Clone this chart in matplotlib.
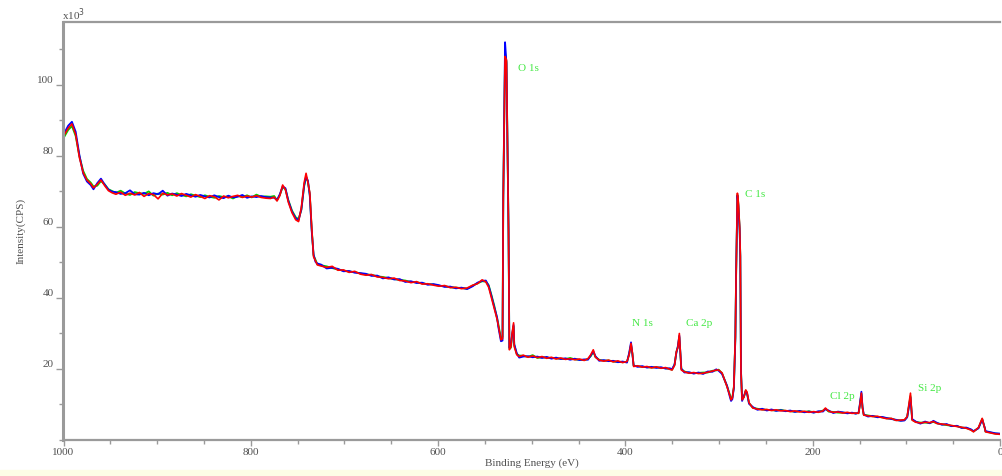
import numpy as np
import matplotlib.pyplot as plt
from matplotlib.ticker import MultipleLocator
from matplotlib.patches import Rectangle

# Binding energy (eV) and intensity (x10^3 CPS) for the three survey scans
energy = [
    1000, 995, 991, 987, 983, 979, 975, 971, 968, 964, 960, 956, 952, 948,
    944, 939, 934, 929, 924, 919, 914, 909, 904, 899, 894, 889, 884, 879, 874,
    869, 864, 859, 854, 849, 844, 839, 834, 829, 824, 819, 814, 809, 804, 799,
    794, 789, 784, 779,
    775, 772, 769, 766, 763, 760, 756, 752, 749, 746, 743, 741, 739, 737, 735,
    733, 731, 729,
    725, 719, 713, 707, 701, 695, 689, 683, 677, 671, 665, 659, 653, 647, 641,
    635, 629, 623, 617, 611, 605, 599, 593, 587, 581, 575, 569, 563,
    558, 553, 549, 546, 543, 540, 537, 535.8, 532.9, 531.2, 530.4, 528.5, 527.0,
    524.8, 523.9, 522.2, 521.2, 519.4, 518.7, 516.0, 513.4,
    509, 504, 499, 494, 489, 484, 479, 474, 469, 464, 459, 454, 449, 444, 440,
    437, 434.3, 432, 428, 423, 418, 413, 408, 403, 398.3, 396, 394, 392.5,
    391.2, 387, 382, 377, 372, 367, 362, 357, 352.5, 350.2, 347.5, 345.6, 344,
    342.4, 340.3, 337, 332, 327, 322, 317, 312, 307, 303, 300.4, 296.8, 291.5,
    288.5, 287.2, 285.8, 284.2, 282.6, 281.8, 280.4, 279.4, 278.0, 277.3, 276.6,
    275.4, 273.5, 271.5, 270.1, 268, 264, 259, 254, 249, 244, 239, 234, 229,
    224, 219, 214, 209, 204, 199, 194, 189, 186.4, 183, 178, 173, 168, 163, 158,
    154, 151, 149.8, 148, 146.8, 145.5, 141, 136, 131, 126, 121, 116, 111, 106,
    102, 99.1, 95.6, 93.8, 90, 85, 80, 75, 71.1, 67, 62, 57, 52, 46, 41, 36,
    31, 28.3, 23, 19, 16, 15.5, 10, 5, 0,
]

counts_red = [
    85.5, 87.8, 89.0, 86.0, 79.5, 75.3, 73.2, 72.2, 71.0, 72.0, 73.2, 71.6, 70.2, 69.6,
    69.2, 69.8, 68.9, 69.5, 69.0, 69.7, 68.6, 69.4, 69.1, 67.9, 69.5, 69.0, 69.3, 68.7, 69.4,
    68.9, 68.4, 69.1, 68.6, 68.0, 68.8, 68.5, 67.6, 68.7, 68.2, 68.6, 68.9, 68.3, 68.7, 68.4,
    68.8, 68.3, 68.1, 68.0,
    68.4, 67.3, 68.8, 71.8, 70.5, 67.0, 64.0, 62.0, 61.5, 65.5, 72.5, 75.1, 72.5, 69.6, 60.0,
    51.6, 50.5, 49.3,
    49.0, 48.6, 48.9, 47.8, 47.9, 47.2, 47.5, 46.7, 46.4, 46.6, 45.9, 45.8, 45.4, 45.6, 44.9,
    44.8, 44.3, 44.6, 43.9, 44.0, 43.6, 43.3, 43.5, 42.9, 43.0, 42.6, 42.8, 43.6,
    44.0, 45.1, 44.5, 43.0, 40.0, 37.0, 34.0, 32.4, 28.2, 28.5, 69.0, 108.0, 107.0,
    58.6, 25.4, 26.3, 29.6, 33.0, 26.3, 24.0, 23.5,
    23.9, 23.3, 23.7, 23.2, 23.5, 23.0, 23.3, 22.8, 23.1, 22.7, 22.9, 22.6, 22.8, 22.4, 22.9,
    24.0, 25.4, 23.3, 22.5, 22.2, 22.5, 22.0, 22.3, 21.8, 22.1, 24.0, 27.2, 24.5,
    20.7, 20.9, 20.5, 20.7, 20.3, 20.6, 20.2, 20.4, 19.9, 19.7, 21.0, 24.9, 26.0,
    30.0, 19.7, 19.2, 18.8, 19.0, 18.7, 18.8, 19.1, 19.4, 19.7, 19.7, 18.9, 15.0,
    12.5, 11.3, 11.8, 15.0, 29.1, 46.5, 69.5, 67.0, 60.0, 52.1, 19.2,
    11.3, 12.0, 14.1, 13.5, 10.5, 9.0, 8.7, 8.5, 8.6, 8.3, 8.5, 8.2, 8.3,
    8.0, 8.2, 7.9, 8.1, 7.8, 8.0, 7.8, 8.2, 9.0, 8.1, 7.8, 7.9, 7.6, 7.8, 7.5,
    7.6, 7.5, 9.5, 13.2, 9.0, 7.0, 6.8, 6.6, 6.7, 6.3, 6.0, 6.1, 5.5, 5.6,
    5.7, 6.6, 13.2, 5.6, 5.0, 4.8, 5.0, 4.9, 5.2, 4.6, 4.5, 4.3, 4.1, 3.8, 3.6, 3.3,
    2.8, 2.3, 3.5, 6.1, 3.0, 2.3, 2.0, 1.7, 1.6,
]

counts_blue = [
    86.0, 88.5, 89.6, 86.8, 80.2, 75.0, 72.8, 71.8, 70.6, 72.3, 73.6, 71.9, 70.5, 69.9,
    69.8, 69.3, 69.5, 70.3, 69.2, 69.1, 69.6, 68.9, 69.5, 69.2, 70.2, 68.8, 69.4, 69.1, 68.7,
    69.3, 68.9, 68.5, 69.0, 68.6, 68.3, 68.9, 68.4, 68.1, 68.8, 68.3, 68.5, 69.0, 68.2, 68.6,
    68.4, 68.7, 68.4, 68.3,
    68.2, 67.6, 69.2, 71.4, 70.9, 67.4, 64.3, 62.4, 61.9, 65.0, 71.8, 74.2, 73.0, 68.8, 59.0,
    52.3, 50.2, 49.7,
    49.4, 48.3, 48.5, 48.2, 47.5, 47.6, 47.1, 47.0, 46.8, 46.2, 46.3, 45.5, 45.8, 45.2, 45.3,
    44.5, 44.7, 44.2, 44.3, 43.7, 43.9, 43.6, 43.1, 43.2, 42.7, 42.9, 42.5, 43.3,
    44.3, 44.8, 44.9, 43.4, 40.5, 37.4, 34.5, 32.0, 27.8, 28.0, 68.0, 112.0, 106.0,
    59.5, 26.0, 26.8, 29.2, 32.4, 27.0, 24.4, 23.2,
    23.5, 23.6, 23.3, 23.5, 23.1, 23.4, 22.9, 23.2, 22.8, 23.0, 22.6, 22.9, 22.5, 22.7, 22.6,
    23.8, 25.0, 23.6, 22.3, 22.5, 22.2, 22.3, 21.9, 22.1, 21.8, 24.5, 27.5, 24.0,
    21.0, 20.6, 20.8, 20.4, 20.6, 20.3, 20.5, 20.1, 20.2, 19.9, 21.3, 24.5, 26.4,
    29.4, 20.1, 19.0, 19.1, 18.7, 19.0, 18.6, 19.3, 19.2, 19.9, 19.5, 18.6, 15.3,
    12.2, 11.0, 11.5, 14.6, 28.5, 46.0, 68.8, 66.0, 59.0, 51.5, 19.8,
    11.0, 12.3, 13.8, 13.2, 10.2, 9.3, 8.5, 8.8, 8.3, 8.6, 8.2, 8.4, 8.1,
    8.3, 7.9, 8.2, 7.8, 8.0, 7.7, 8.1, 8.0, 8.7, 8.3, 7.6, 8.0, 7.8, 7.5, 7.7,
    7.4, 7.7, 9.8, 13.6, 9.3, 7.2, 6.6, 6.8, 6.4, 6.5, 6.2, 5.9, 5.7, 5.4,
    5.5, 6.4, 12.0, 5.9, 5.2, 4.6, 5.2, 4.7, 5.4, 4.8, 4.3, 4.5, 3.9, 4.0, 3.4, 3.5,
    3.0, 2.5, 3.3, 5.8, 3.2, 2.5, 2.2, 1.9, 1.8,
]

counts_green = [
    85.0, 87.3, 88.4, 85.6, 79.9, 75.8, 73.5, 72.5, 71.4, 71.6, 72.9, 72.0, 70.6, 70.1,
    69.6, 70.2, 69.4, 69.0, 69.8, 69.5, 69.3, 70.0, 68.8, 69.4, 69.1, 69.6, 68.9, 69.5, 69.0,
    68.6, 69.2, 68.8, 68.4, 68.9, 68.5, 68.2, 68.7, 68.4, 68.6, 68.0, 68.7, 68.4, 68.9, 68.3,
    69.1, 68.5, 68.6, 68.5,
    68.7, 67.5, 69.0, 71.2, 70.6, 67.6, 64.6, 62.7, 62.2, 64.8, 71.5, 73.9, 72.8, 69.0, 59.5,
    52.0, 50.8, 49.5,
    49.2, 48.9, 48.4, 48.0, 47.7, 47.4, 47.3, 46.9, 46.6, 46.5, 46.1, 45.9, 45.6, 45.3, 45.1,
    44.9, 44.5, 44.4, 44.1, 43.9, 43.8, 43.4, 43.3, 43.0, 42.9, 42.8, 42.6, 43.5,
    44.1, 44.7, 44.6, 43.6, 40.8, 37.8, 34.3, 32.8, 28.6, 29.0, 68.5, 109.0, 106.5,
    59.0, 25.8, 26.0, 29.0, 32.0, 26.8, 24.2, 23.8,
    23.7, 23.4, 23.9, 23.1, 23.3, 23.2, 23.1, 23.0, 22.9, 22.8, 23.1, 22.7, 22.6, 22.5, 22.8,
    23.6, 24.8, 23.4, 22.6, 22.3, 22.4, 22.1, 22.0, 21.9, 22.0, 24.2, 26.8, 24.3,
    20.9, 20.8, 20.6, 20.5, 20.4, 20.5, 20.3, 20.2, 20.0, 19.8, 21.2, 24.7, 26.2,
    29.0, 20.0, 19.3, 18.9, 18.8, 18.9, 19.0, 19.0, 19.5, 19.6, 19.8, 18.8, 15.2,
    12.8, 11.6, 12.0, 14.8, 28.8, 46.2, 69.0, 66.5, 59.5, 51.8, 19.5,
    11.5, 12.1, 13.9, 13.0, 10.4, 9.1, 8.8, 8.6, 8.5, 8.4, 8.3, 8.5, 8.2,
    8.1, 8.0, 8.1, 7.9, 8.1, 7.8, 7.9, 8.3, 8.8, 8.0, 7.9, 7.7, 7.7, 7.6, 7.6,
    7.5, 7.6, 9.6, 13.0, 9.1, 7.1, 6.9, 6.7, 6.5, 6.4, 6.1, 6.0, 5.6, 5.5,
    5.6, 6.5, 12.4, 5.7, 5.1, 4.9, 4.9, 4.8, 5.1, 4.7, 4.4, 4.2, 4.0, 3.9, 3.5, 3.4,
    2.9, 2.4, 3.4, 5.9, 3.1, 2.4, 2.1, 1.8, 1.7,
]

# peak labels: text, energy, height
peak_names = ["O 1s", "C 1s", "N 1s", "Ca 2p", "Cl 2p", "Si 2p"]
peak_x = [514.5, 272.7, 392.9, 334.9, 181.8, 87.8]
peak_y = [104.5, 69.0, 32.9, 32.9, 12.2, 14.6]

serif = ["Liberation Serif", "DejaVu Serif"]
gray = "#9a9a9a"
txt = "#505050"

fig = plt.figure(figsize=(10.02, 4.76), dpi=100)
fig.patches.append(Rectangle((0, 0), 1, 6 / 476, transform=fig.transFigure,
                             color="#fdfde6", zorder=-1))
ax = fig.add_axes([63.5 / 1002, 1 - 440 / 476, (1000 - 63.5) / 1002, 418 / 476])

ax.plot(energy, counts_green, color="#00d000", lw=1.3)
ax.plot(energy, counts_blue, color="#0000ff", lw=1.3)
ax.plot(energy, counts_red, color="#ff0000", lw=1.2)

ax.set_xlim(1000, 0)
ax.set_ylim(0, 117.7)

ax.xaxis.set_major_locator(MultipleLocator(200))
ax.xaxis.set_minor_locator(MultipleLocator(50))
ax.set_yticks([20, 40, 60, 80, 100])
ax.yaxis.set_minor_locator(MultipleLocator(10))

ax.tick_params(which="both", colors=gray, labelcolor=txt, labelsize=8, width=1)
ax.tick_params(axis="x", which="major", length=4, pad=2)
ax.tick_params(axis="x", which="minor", length=3)
ax.tick_params(axis="y", which="major", length=5, pad=2)
ax.tick_params(axis="y", which="minor", length=3)
for lab in ax.get_xticklabels() + ax.get_yticklabels():
    lab.set_family(serif)
for lab in ax.get_yticklabels():
    lab.set_va("bottom")

for side in ["left", "bottom", "top"]:
    ax.spines[side].set_color(gray)
ax.spines["left"].set_linewidth(2.2)
ax.spines["bottom"].set_linewidth(1.6)
ax.spines["top"].set_linewidth(1.6)
ax.spines["right"].set_visible(False)

for name, x, y in zip(peak_names, peak_x, peak_y):
    ax.text(x, y, name, color="#44e844", fontsize=8, family=serif,
            ha="left", va="center")

ax.set_xlabel("Binding Energy (eV)", fontsize=8, family=serif, color=txt, labelpad=1)
ax.set_ylabel("Intensity(CPS)", fontsize=8, family=serif, color=txt, labelpad=8)
fig.text(62 / 1002, 1 - 15 / 476, r"x10$^3$", fontsize=8, family=serif, color=txt,
         ha="left", va="center")

fig.savefig("out.png", dpi=100)
